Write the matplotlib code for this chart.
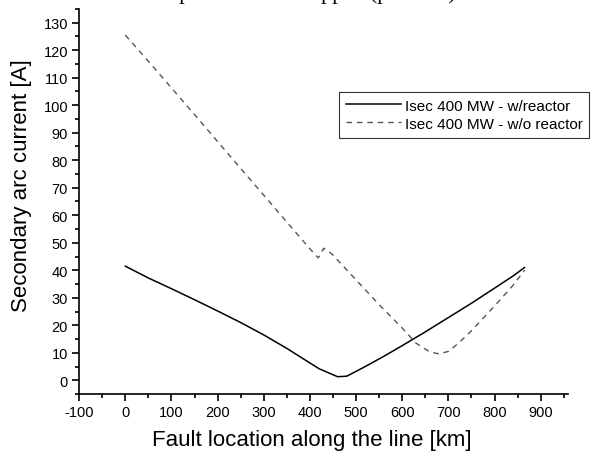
import matplotlib.pyplot as plt
from matplotlib.ticker import MultipleLocator

# Fault location [km] and secondary arc current [A]
km_reactor = [0, 50, 100, 150, 200, 250, 300, 350, 400, 420, 460, 480, 520, 560, 600, 650, 700, 750, 800, 840, 865]
isec_reactor = [41.5, 37.2, 33.3, 29.3, 25.2, 21.0, 16.5, 11.6, 6.3, 4.2, 1.3, 1.5, 5.0, 8.7, 12.6, 17.6, 22.8, 28.0, 33.5, 37.9, 41.0]

km_no_reactor = [0, 50, 100, 150, 200, 250, 300, 350, 400, 418, 430, 440, 450, 500, 550, 600, 630, 660, 680, 700, 720, 750, 800, 840, 865]
isec_no_reactor = [125.5, 116.0, 106.3, 96.6, 86.8, 77.0, 67.3, 57.5, 47.8, 44.5, 48.0, 47.0, 45.5, 36.5, 27.5, 19.0, 13.5, 10.3, 9.6, 10.5, 13.2, 18.0, 27.0, 34.5, 40.0]

label_reactor = 'Isec 400 MW - w/reactor'
label_no_reactor = 'Isec 400 MW - w/o reactor'

plt.rcParams['font.family'] = ['Liberation Sans', 'DejaVu Sans']
plt.rcParams['axes.unicode_minus'] = False

fig = plt.figure(figsize=(6.04, 4.52), dpi=100)
ax = fig.add_axes([0.131, 0.126, 0.81, 0.852])

ax.plot(km_reactor, isec_reactor, color='black', lw=1.1, label=label_reactor)
ax.plot(km_no_reactor, isec_no_reactor, color='#555555', lw=1.0, dashes=(4, 3.5), label=label_no_reactor)

ax.set_xlim(-100, 960)
ax.set_ylim(-5, 135)
ax.xaxis.set_major_locator(MultipleLocator(100))
ax.xaxis.set_minor_locator(MultipleLocator(50))
ax.yaxis.set_major_locator(MultipleLocator(10))
ax.yaxis.set_minor_locator(MultipleLocator(5))
ax.tick_params(which='major', direction='out', length=5, width=1.2, labelsize=10.5, pad=3)
ax.tick_params(which='minor', direction='out', length=3, width=1.2)

for side in ['top', 'right']:
    ax.spines[side].set_visible(False)
for side in ['left', 'bottom']:
    ax.spines[side].set_linewidth(1.2)

ax.set_xlabel('Fault location along the line [km]', fontsize=16)
ax.set_ylabel('Secondary arc current [A]', fontsize=16)
ax.xaxis.set_label_coords(0.476, -0.09)
ax.yaxis.set_label_coords(-0.096, 0.543)

leg = ax.legend(loc='upper right', bbox_to_anchor=(597 / 604, 1 - 85 / 452),
                bbox_transform=fig.transFigure, fontsize=11, frameon=True,
                fancybox=False, framealpha=1, edgecolor='#333333', handlelength=3.6,
                handletextpad=0.25, borderpad=0.45, labelspacing=0.28)
leg.get_frame().set_linewidth(0.8)

# title cropped at the top of the image, only descenders visible
fig.text(0.49, 1 + 0.5 / 452, 'Compensated line tripped (phase A)', ha='center', va='baseline',
         fontsize=16, family='Liberation Serif')

fig.savefig('out.png', dpi=100)
